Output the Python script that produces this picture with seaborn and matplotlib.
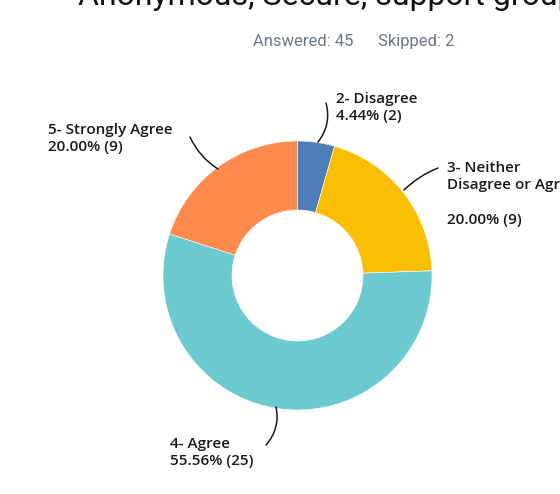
import matplotlib
matplotlib.use("Agg")
import matplotlib.pyplot as plt
import seaborn as sns

# %% data
categories = ["2- Disagree", "3- Neither\nDisagree or Agree\n", "4- Agree", "5- Strongly Agree"]
counts = [2, 9, 25, 9]
percents = [4.44, 20.00, 55.56, 20.00]
colors = ["#4f7db8", "#f9be00", "#6bcacf", "#ff8a4e"]
answered = 45
skipped = 2
title = "Anonymous, Secure, support group meetings"

sns.set_theme(style="white")
plt.rcParams["font.family"] = ["Open Sans", "DejaVu Sans"]

# %%
fig = plt.figure(figsize=(5.6, 4.94), dpi=100)
ax = fig.add_axes([0, 0, 1, 1])

wedges, _ = ax.pie(
    counts,
    colors=colors,
    startangle=90,
    counterclock=False,
    center=(297.5, 218.5),
    radius=134.5,
    wedgeprops={"width": 69, "edgecolor": "white", "linewidth": 0.4},
    frame=True,
)
ax.set_xlim(0, 560)
ax.set_ylim(0, 494)
ax.axis("off")

# label text anchor and leader line (start on ring, end near text)
label_pos = [(336, 402), (447, 333), (170, 57), (48, 371)]
line_from = [(318, 352), (404, 304), (276, 87), (218, 325)]
line_to = [(326, 391), (438, 326), (266, 49), (190, 357)]
rads = [-0.25, 0.1, 0.25, 0.15]

for cat, n, p, xy, a, b, r in zip(categories, counts, percents, label_pos, line_from, line_to, rads):
    ax.text(
        xy[0], xy[1], f"{cat}\n{p:.2f}% ({n})",
        ha="left", va="top", fontsize=11, fontweight="semibold",
        color="#1a1a1a", linespacing=1.3,
    )
    ax.annotate(
        "", xy=a, xytext=b,
        arrowprops=dict(arrowstyle="-", color="#1a1a1a", lw=1.1,
                        connectionstyle=f"arc3,rad={r}", shrinkA=0, shrinkB=0),
    )

fig.text(354 / 560, 1 - 46 / 494, f"Answered: {answered}      Skipped: {skipped}",
         ha="center", va="baseline", fontsize=12, color="#6b7785",
         family=["Roboto", "DejaVu Sans"])
fig.text(78 / 560, 1 - 5 / 494, title, ha="left", va="baseline",
         fontsize=23, color="#111111", family=["Roboto", "DejaVu Sans"])

fig.savefig("out.png", dpi=100)
